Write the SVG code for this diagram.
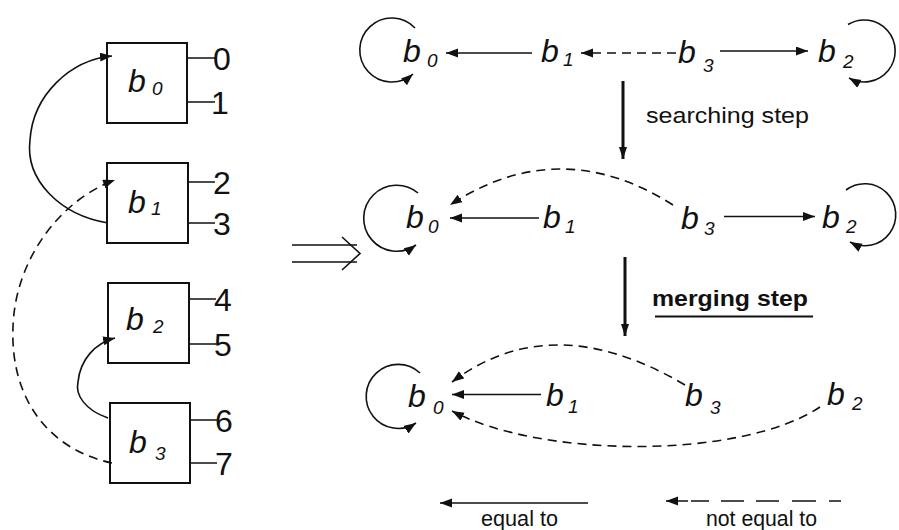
<svg xmlns="http://www.w3.org/2000/svg" width="899" height="530" viewBox="0 0 899 530">
<style>
.bg{fill:#fff}
.box{fill:none;stroke:#111;stroke-width:2}
.ln{fill:none;stroke:#111;stroke-width:1.6}
.dash{stroke-dasharray:9 6}
.thick{fill:none;stroke:#111;stroke-width:3}
.b{font-family:"Liberation Sans",Arial,sans-serif;font-style:italic;font-size:32px;fill:#111}
.sub{font-size:19px}
.dig{font-family:"Liberation Sans",Arial,sans-serif;font-size:32px;fill:#111}
.lbl{font-family:"Liberation Sans",Arial,sans-serif;font-size:22px;fill:#111}
</style>
<defs>
<marker id="ah" markerWidth="13" markerHeight="10" refX="12" refY="4.5" orient="auto" markerUnits="userSpaceOnUse"><path d="M0,0 L12,4.5 L0,9 z" fill="#111"/></marker>
<marker id="ahv" markerWidth="13" markerHeight="10" refX="12" refY="4" orient="auto" markerUnits="userSpaceOnUse"><path d="M0,0 L12,4 L0,8 z" fill="#111"/></marker>
</defs>
<rect class="bg" x="0" y="0" width="899" height="530"/>

<!-- left: blocks -->
<g id="blk-b0">
<rect class="box" x="107" y="43" width="80" height="80"/>
<path class="ln" d="M187,58 H215 M187,102 H215"/>
<text class="dig" x="213" y="70">0</text>
<text class="dig" x="211" y="114">1</text>
<text class="b" x="128" y="92">b</text><text class="b sub" x="152" y="95">0</text>
</g>
<g id="blk-b1">
<rect class="box" x="107" y="163" width="81" height="80"/>
<path class="ln" d="M188,182 H215 M188,223 H215"/>
<text class="dig" x="213" y="194">2</text>
<text class="dig" x="213" y="235">3</text>
<text class="b" x="128" y="213">b</text><text class="b sub" x="151" y="215">1</text>
</g>
<g id="blk-b2">
<rect class="box" x="108" y="283" width="81" height="80"/>
<path class="ln" d="M189,299 H216 M189,344 H216"/>
<text class="dig" x="214" y="311">4</text>
<text class="dig" x="214" y="356">5</text>
<text class="b" x="126" y="330">b</text><text class="b sub" x="153" y="333">2</text>
</g>
<g id="blk-b3">
<rect class="box" x="110" y="403" width="80" height="80"/>
<path class="ln" d="M190,420 H217 M190,463 H217"/>
<text class="dig" x="215" y="432">6</text>
<text class="dig" x="215" y="475">7</text>
<text class="b" x="129" y="453">b</text><text class="b sub" x="155" y="460">3</text>
</g>

<!-- right: row 1 -->
<g id="r1-b0"><text class="b" x="403" y="62">b</text><text class="b sub" x="427" y="67">0</text></g>
<g id="r1-b1"><text class="b" x="541" y="62">b</text><text class="b sub" x="563" y="66">1</text></g>
<g id="r1-b3"><text class="b" x="678" y="63">b</text><text class="b sub" x="703" y="72">3</text></g>
<g id="r1-b2"><text class="b" x="818" y="62">b</text><text class="b sub" x="843" y="68">2</text></g>
<!-- row 2 -->
<g id="r2-b0"><text class="b" x="406" y="228">b</text><text class="b sub" x="428" y="233">0</text></g>
<g id="r2-b1"><text class="b" x="543" y="228">b</text><text class="b sub" x="565" y="233">1</text></g>
<g id="r2-b3"><text class="b" x="681" y="229">b</text><text class="b sub" x="704" y="235">3</text></g>
<g id="r2-b2"><text class="b" x="822" y="228">b</text><text class="b sub" x="846" y="233">2</text></g>
<!-- row 3 -->
<g id="r3-b0"><text class="b" x="408" y="407">b</text><text class="b sub" x="433" y="414">0</text></g>
<g id="r3-b1"><text class="b" x="546" y="406">b</text><text class="b sub" x="568" y="413">1</text></g>
<g id="r3-b3"><text class="b" x="685" y="406">b</text><text class="b sub" x="710" y="414">3</text></g>
<g id="r3-b2"><text class="b" x="827" y="405">b</text><text class="b sub" x="852" y="410">2</text></g>

<!-- labels -->
<g id="step-labels">
<text class="lbl" x="646" y="123" textLength="163" lengthAdjust="spacingAndGlyphs">searching step</text>
<text class="lbl" x="652" y="306" font-weight="bold" font-size="24" textLength="156" lengthAdjust="spacingAndGlyphs">merging step</text>
<line x1="655" y1="316.5" x2="813" y2="316.5" stroke="#111" stroke-width="2"/>
</g>
<g id="legend">
<text class="lbl" x="481" y="526" font-size="21" textLength="77" lengthAdjust="spacingAndGlyphs">equal to</text>
<text class="lbl" x="706" y="526" font-size="21" textLength="111" lengthAdjust="spacingAndGlyphs">not equal to</text>
</g>

<!-- double arrow -->
<g id="implies">
<path class="ln" d="M292,245 H357 M292,262 H357"/>
<path class="ln" d="M342,237 L360,253.5 L342,270"/>
</g>

<g id="connectors">
<!-- left -->
<path class="ln" d="M108,223 C60,215 25,180 30,140 C33,95 70,60 112,56" marker-end="url(#ah)"/>
<path class="ln dash" d="M112,463 C50,450 10,400 13,327 C15,260 60,200 115,180" marker-end="url(#ah)"/>
<path class="ln" d="M108,418 C85,410 75,395 78,382 C80,360 95,343 115,338" marker-end="url(#ah)"/>

<!-- row 1 -->
<path class="ln" d="M415,28 A32,32 0 1 0 413,74" marker-end="url(#ah)"/>
<path class="ln" d="M532,53 L446,53" marker-end="url(#ah)"/>
<path class="ln dash" d="M676,53 L581,53" marker-end="url(#ah)"/>
<path class="ln" d="M720,51 L808,51" marker-end="url(#ah)"/>
<path class="ln" d="M848,24.5 A31,31 0 1 1 849,78" marker-end="url(#ah)"/>

<path class="thick" d="M623,81 L623,159" marker-end="url(#ahv)"/>

<!-- row 2 -->
<path class="ln" d="M418,193 A33,33 0 1 0 416,245" marker-end="url(#ah)"/>
<path class="ln" d="M539,218 L450,218" marker-end="url(#ah)"/>
<path class="ln dash" d="M673,205 Q559.5,133 450,205" marker-end="url(#ah)"/>
<path class="ln" d="M724,216.5 L815,216.5" marker-end="url(#ah)"/>
<path class="ln" d="M846,190 A31,31 0 1 1 850,242" marker-end="url(#ah)"/>

<path class="thick" d="M625,257 L625,336" marker-end="url(#ahv)"/>

<!-- row 3 -->
<path class="ln" d="M420,373 A32,32 0 1 0 416,423" marker-end="url(#ah)"/>
<path class="ln" d="M541,394.5 L452,394.5" marker-end="url(#ah)"/>
<path class="ln dash" d="M685,385 Q552.5,306.5 452,382" marker-end="url(#ah)"/>
<path class="ln dash" d="M820,407 C740,460 540,458 452,411" marker-end="url(#ah)"/>

<!-- legend arrows -->
<path class="ln" d="M588,503 L440,503" marker-end="url(#ah)"/>
<path class="ln" d="M841,501 L666,501" stroke-dasharray="12 13 24 13 23 12 23 12 18 3 40" marker-end="url(#ah)"/>
</g>
</svg>
